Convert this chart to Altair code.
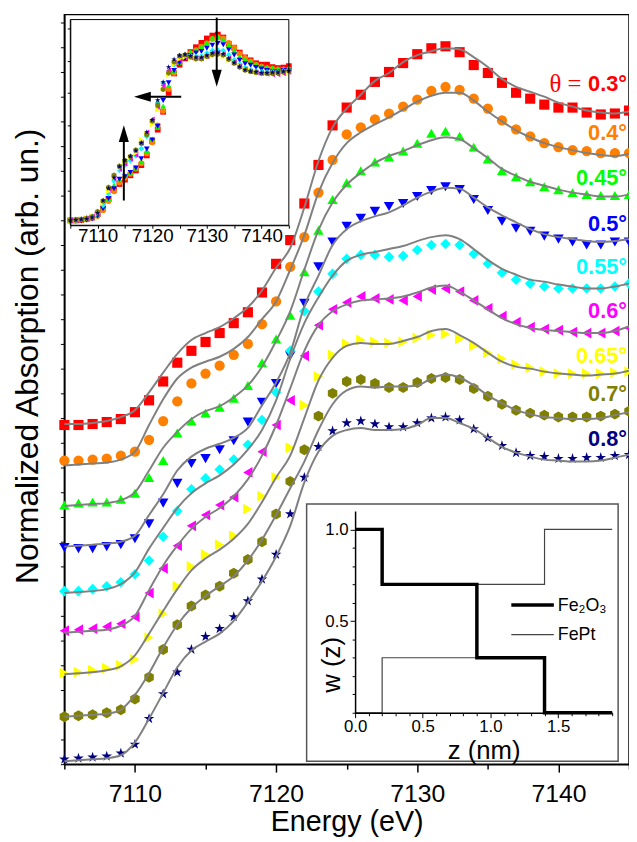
import altair as alt
import pandas as pd

# ---------------- data ----------------
energy = list(range(7105, 7146))  # eV

names = ["0.3°", "0.4°", "0.45°", "0.5°", "0.55°", "0.6°", "0.65°", "0.7°", "0.8°"]
colors = ["#FF0000", "#FF8000", "#00FF00", "#0000FF", "#00FFFF",
          "#FF00FF", "#FFFF00", "#808000", "#000080"]

# measured points (offset spectra, arb. un.)
pts_03 = [3.43,3.43,3.44,3.46,3.49,3.56,3.68,3.87,4.06,4.18,4.27,4.36,4.46,4.57,4.77,5.06,5.30,5.67,6.06,6.46,6.64,6.77,6.90,7.00,7.09,7.18,7.24,7.26,7.20,7.07,6.99,6.89,6.79,6.73,6.67,6.64,6.64,6.59,6.57,6.58,6.61]
pts_04 = [3.07,3.07,3.08,3.09,3.12,3.16,3.28,3.47,3.67,3.85,3.95,4.03,4.14,4.25,4.45,4.68,5.03,5.33,5.78,6.11,6.37,6.44,6.52,6.58,6.65,6.72,6.81,6.85,6.82,6.73,6.63,6.51,6.42,6.35,6.28,6.24,6.21,6.20,6.18,6.18,6.18]
pts_045 = [2.62,2.64,2.65,2.65,2.68,2.74,2.90,3.07,3.35,3.47,3.55,3.61,3.70,3.83,4.06,4.30,4.54,4.98,5.40,5.71,5.88,6.00,6.09,6.14,6.20,6.28,6.38,6.40,6.35,6.24,6.12,6.00,5.94,5.89,5.84,5.81,5.78,5.76,5.75,5.75,5.76]
pts_05 = [2.19,2.18,2.18,2.20,2.22,2.28,2.43,2.64,2.84,3.04,3.09,3.18,3.27,3.46,3.66,3.85,4.13,4.66,5.03,5.28,5.44,5.52,5.59,5.64,5.67,5.74,5.80,5.84,5.81,5.71,5.60,5.49,5.42,5.39,5.34,5.31,5.28,5.25,5.25,5.28,5.28]
pts_055 = [1.75,1.75,1.77,1.80,1.84,1.92,2.06,2.30,2.56,2.78,2.89,2.98,3.08,3.23,3.48,3.76,4.18,4.58,4.78,4.96,5.11,5.15,5.15,5.13,5.14,5.20,5.25,5.26,5.25,5.16,5.06,4.97,4.90,4.86,4.83,4.81,4.81,4.81,4.81,4.83,4.86]
pts_06 = [1.35,1.36,1.37,1.39,1.42,1.49,1.73,1.98,2.21,2.41,2.52,2.62,2.70,2.95,3.16,3.43,3.68,4.13,4.44,4.60,4.67,4.73,4.71,4.70,4.69,4.73,4.80,4.81,4.78,4.69,4.61,4.53,4.47,4.42,4.40,4.39,4.37,4.36,4.36,4.38,4.41]
pts_065 = [0.92,0.93,0.95,0.97,1.00,1.06,1.28,1.52,1.80,2.00,2.12,2.22,2.31,2.58,2.71,2.90,3.20,3.63,3.92,4.14,4.25,4.29,4.27,4.26,4.27,4.31,4.34,4.35,4.30,4.23,4.16,4.10,4.04,4.01,3.97,3.95,3.95,3.95,3.95,3.96,3.97]
pts_07 = [0.48,0.49,0.50,0.52,0.55,0.66,0.88,1.16,1.41,1.60,1.71,1.80,1.93,2.07,2.25,2.53,2.86,3.18,3.52,3.75,3.87,3.89,3.85,3.81,3.81,3.86,3.90,3.91,3.89,3.80,3.72,3.64,3.58,3.55,3.53,3.51,3.51,3.51,3.52,3.54,3.57]
pts_08 = [0.05,0.06,0.07,0.08,0.11,0.20,0.46,0.71,0.93,1.16,1.29,1.37,1.49,1.65,1.87,2.12,2.53,2.90,3.21,3.37,3.45,3.47,3.44,3.41,3.41,3.45,3.50,3.51,3.48,3.39,3.30,3.22,3.15,3.12,3.11,3.09,3.09,3.10,3.10,3.12,3.13]

# fitted curves (gray lines)
fit_03 = [3.44,3.44,3.45,3.47,3.51,3.58,3.76,3.96,4.15,4.29,4.36,4.42,4.51,4.62,4.79,5.02,5.22,5.63,6.10,6.44,6.63,6.77,6.91,6.99,7.10,7.17,7.21,7.24,7.23,7.15,7.05,6.93,6.85,6.80,6.75,6.69,6.65,6.61,6.59,6.58,6.60]
fit_04 = [3.02,3.03,3.04,3.05,3.08,3.16,3.43,3.69,3.90,4.01,4.07,4.12,4.20,4.32,4.50,4.68,5.00,5.35,5.78,6.08,6.28,6.39,6.47,6.54,6.62,6.70,6.76,6.79,6.79,6.71,6.60,6.50,6.41,6.34,6.28,6.24,6.21,6.18,6.16,6.15,6.17]
fit_045 = [2.61,2.62,2.63,2.64,2.67,2.75,2.97,3.20,3.36,3.49,3.57,3.62,3.71,3.83,4.02,4.28,4.58,5.00,5.40,5.68,5.86,5.98,6.08,6.15,6.20,6.26,6.31,6.34,6.32,6.23,6.13,6.02,5.95,5.89,5.85,5.81,5.78,5.76,5.74,5.74,5.76]
fit_05 = [2.20,2.21,2.22,2.23,2.25,2.31,2.52,2.73,2.97,3.11,3.19,3.24,3.30,3.40,3.63,3.86,4.16,4.63,4.94,5.25,5.41,5.49,5.54,5.58,5.65,5.73,5.79,5.83,5.82,5.73,5.63,5.55,5.48,5.41,5.36,5.33,5.31,5.29,5.28,5.29,5.31]
fit_055 = [1.73,1.74,1.75,1.77,1.82,1.94,2.18,2.39,2.59,2.74,2.84,2.92,3.03,3.18,3.38,3.68,4.10,4.46,4.72,4.94,5.09,5.15,5.18,5.21,5.24,5.29,5.33,5.35,5.31,5.21,5.10,5.01,4.95,4.90,4.88,4.85,4.83,4.81,4.81,4.83,4.86]
fit_06 = [1.33,1.34,1.35,1.36,1.40,1.50,1.76,2.01,2.21,2.38,2.50,2.59,2.71,2.88,3.12,3.43,3.80,4.18,4.44,4.58,4.65,4.69,4.70,4.71,4.73,4.77,4.82,4.84,4.78,4.69,4.60,4.51,4.45,4.41,4.39,4.38,4.37,4.36,4.36,4.38,4.43]
fit_065 = [0.91,0.92,0.93,0.95,0.99,1.10,1.32,1.55,1.77,1.96,2.08,2.17,2.28,2.43,2.65,2.90,3.12,3.50,3.88,4.11,4.23,4.26,4.25,4.25,4.28,4.32,4.38,4.40,4.34,4.26,4.16,4.07,4.02,4.00,3.97,3.95,3.94,3.93,3.94,3.95,3.98]
fit_07 = [0.48,0.49,0.50,0.51,0.55,0.70,0.92,1.18,1.41,1.58,1.70,1.80,1.90,2.06,2.27,2.52,2.79,3.06,3.38,3.64,3.78,3.82,3.81,3.82,3.82,3.83,3.90,3.94,3.91,3.83,3.73,3.65,3.58,3.54,3.51,3.50,3.49,3.49,3.50,3.53,3.56]
fit_08 = [0.03,0.04,0.05,0.06,0.09,0.22,0.46,0.72,0.98,1.15,1.24,1.32,1.45,1.64,1.85,2.10,2.41,2.85,3.16,3.32,3.38,3.40,3.38,3.38,3.39,3.43,3.50,3.50,3.45,3.39,3.30,3.21,3.15,3.11,3.08,3.07,3.06,3.06,3.07,3.10,3.13]

points = [pts_03, pts_04, pts_045, pts_05, pts_055, pts_06, pts_065, pts_07, pts_08]
fits = [fit_03, fit_04, fit_045, fit_05, fit_055, fit_06, fit_065, fit_07, fit_08]
baseline = [3.43, 3.07, 2.62, 2.19, 1.75, 1.35, 0.92, 0.48, 0.05]   # vertical offsets removed in the inset
label_y = [6.88, 6.38, 5.93, 5.46, 5.03, 4.58, 4.13, 3.74, 3.29]

# inset arrows (inset units)
arrow_x = [7131.8, 7125.3, 7114.8]
arrow_y = [4.18, 2.55, 0.41]
arrow_x2 = [7131.8, 7119.0, 7114.8]
arrow_y2 = [3.05, 2.55, 1.70]
head_x = [7131.8, 7118.2, 7114.8]
head_y = [2.93, 2.55, 1.79]

# depth profile inset
z_nm = [0.0, 0.2, 0.9, 1.4, 1.9]
w_fe2o3 = [1.0, 0.7, 0.3, 0.0, 0.0]
w_fept = [0.0, 0.3, 0.7, 1.0, 1.0]

# ---------------- tables ----------------
rows_p, rows_f = [], []
for nm, p, f, b in zip(names, points, fits, baseline):
    for e, pv, fv in zip(energy, p, f):
        rows_p.append({"E": e, "A": pv, "rel": round(pv - b, 3), "series": nm})
        rows_f.append({"E": e, "A": fv, "series": nm})
dfp = pd.DataFrame(rows_p)
dff = pd.DataFrame(rows_f)
dflab = pd.DataFrame({"E": [7145] * 9, "A": label_y, "series": names})
dfshaft = pd.DataFrame({"x": arrow_x, "y": arrow_y, "x2": arrow_x2, "y2": arrow_y2})
dfw = pd.DataFrame({"z": z_nm, "fe2o3": w_fe2o3, "fept": w_fept})
one = pd.DataFrame({"a": [0]})

HEX = "M0,-1L0.866,-0.5L0.866,0.5L0,1L-0.866,0.5L-0.866,-0.5Z"
STAR = ("M0,-1L0.223,-0.307L0.951,-0.309L0.361,0.117L0.588,0.809L0,0.38"
        "L-0.588,0.809L-0.361,0.117L-0.951,-0.309L-0.223,-0.307Z")
shapes = ["square", "circle", "triangle-up", "triangle-down", "diamond",
          "triangle-left", "triangle-right", HEX, STAR]
sizes = [105, 125, 150, 150, 120, 150, 150, 130, 175]
DOWN = "M-0.6,-1L0.6,-1L0,1Z"
LEFT = "M1,-0.6L1,0.6L-1,0Z"
UP = "M-0.6,1L0.6,1L0,-1Z"

FONT = "Liberation Sans"
color_s = alt.Scale(domain=names, range=colors)
shape_s = alt.Scale(domain=names, range=shapes)
size_s = alt.Scale(domain=names, range=sizes)

# ---------------- main panel ----------------
xs = alt.Scale(domain=[7105, 7145], nice=False, zero=False)
ys = alt.Scale(domain=[0, 7.58], nice=False, zero=False)
x_axis = alt.Axis(title="Energy (eV)", values=list(range(7105, 7146, 5)), format="d",
                  labelExpr="datum.value % 10 === 0 ? datum.label : ''",
                  tickSize={"condition": {"test": "datum.value % 10 === 0", "value": 8}, "value": 5},
                  labelFontSize=25, titleFontSize=29, labelPadding=10, titlePadding=1,
                  tickWidth=1.5, domainWidth=1.5, labelOverlap=False, labelFlush=False)
y_axis = alt.Axis(title="Normalized Absorption (arb. un.)", labels=False,
                  values=[i * 0.25 for i in range(31)], tickSize=4, tickWidth=1,
                  domainWidth=1.5, titleFontSize=32, titleAngle=270, titleX=-37, titleY=345,
                  titleBaseline="middle", titleAlign="center")

X = alt.X("E:Q", scale=xs, axis=x_axis)
Y = alt.Y("A:Q", scale=ys, axis=y_axis)

main_pts = alt.Chart(dfp).mark_point(filled=True, opacity=1, strokeWidth=0).encode(
    x=X, y=Y,
    color=alt.Color("series:N", scale=color_s, legend=None),
    shape=alt.Shape("series:N", scale=shape_s, legend=None),
    size=alt.Size("series:O", scale=size_s, legend=None),
)
main_fit = alt.Chart(dff).mark_line(color="#808080", strokeWidth=2, interpolate="monotone").encode(
    x=X, y=Y, detail="series:N")
labels = alt.Chart(dflab).mark_text(align="right", baseline="middle", dx=-2, fontSize=22,
                                    fontWeight="bold", font=FONT).encode(
    x=X, y=Y, text="series:N", color=alt.Color("series:N", scale=color_s, legend=None))
theta = alt.Chart(pd.DataFrame({"E": [7145], "A": [label_y[0]], "t": ["θ ="]})).mark_text(
    align="right", baseline="middle", dx=-48, fontSize=25, font="Liberation Serif",
    color="#FF0000").encode(x=X, y=Y, text="t:N")
main = alt.layer(main_pts, main_fit, labels, theta)

# ---------------- inset 1 (unshifted spectra) ----------------
xs1 = alt.Scale(domain=[7105, 7145], range=[6, 227], nice=False, zero=False)
ys1 = alt.Scale(domain=[-0.1, 4.14], range=[213, 5], nice=False, zero=False)
ax1x = alt.Axis(orient="bottom", offset=-545, title=None, values=list(range(7105, 7146, 5)),
                format="d", labelExpr="datum.value % 10 === 0 ? datum.label : ''",
                tickSize=3, labelFontSize=19, labelPadding=-2, labelOverlap=False,
                labelFlush=False, zindex=1)
ax1y = alt.Axis(orient="left", offset=-6, title=None, labels=False,
                values=[0.61, 1.29, 1.96, 2.63, 3.29, 3.96], tickSize=3, zindex=1)
X1 = alt.X("E:Q", scale=xs1, axis=ax1x)
Y1 = alt.Y("rel:Q", scale=ys1, axis=ax1y)
ins1_pts = alt.Chart(dfp).mark_point(filled=True, opacity=1, strokeWidth=0, size=34).encode(
    x=X1, y=Y1,
    color=alt.Color("series:N", scale=color_s, legend=None),
    shape=alt.Shape("series:N", scale=shape_s, legend=None))
ins1_frame = alt.Chart(one).mark_rect(filled=False, color="black", strokeWidth=1).encode(
    x=alt.value(6), x2=alt.value(227), y=alt.value(5), y2=alt.value(213))
shafts = alt.Chart(dfshaft).mark_rule(color="black", strokeWidth=2).encode(
    x=alt.X("x:Q", scale=xs1, axis=ax1x), x2="x2:Q",
    y=alt.Y("y:Q", scale=ys1, axis=ax1y), y2="y2:Q")
heads = []
for hx, hy, path in zip(head_x, head_y, [DOWN, LEFT, UP]):
    heads.append(alt.Chart(pd.DataFrame({"x": [hx], "y": [hy]})).mark_point(
        shape=path, size=289, filled=True, opacity=1, color="black", strokeWidth=0).encode(
        x=alt.X("x:Q", scale=xs1, axis=ax1x), y=alt.Y("y:Q", scale=ys1, axis=ax1y)))
inset1 = alt.layer(ins1_pts, ins1_frame, shafts, *heads)

# ---------------- inset 2 (depth profile) ----------------
xs2 = alt.Scale(domain=[0, 1.9], range=[294, 554], nice=False, zero=False)
ys2 = alt.Scale(domain=[0, 1.1], range=[706, 502], nice=False, zero=False)
ax2x = alt.Axis(orient="bottom", offset=-52, title="z (nm)",
                values=[round(i * 0.1, 1) for i in range(20)], format=".1f",
                labelExpr="(datum.value * 2) % 1 === 0 ? datum.label : ''",
                tickSize={"condition": {"test": "(datum.value * 2) % 1 === 0", "value": 5}, "value": 3},
                labelFontSize=17, titleFontSize=26, labelPadding=1, titlePadding=3,
                labelOverlap=False, labelFlush=False, zindex=1, domainWidth=1.5)
ax2y = alt.Axis(orient="left", offset=-294, title="w (z)",
                values=[round(i * 0.1, 1) for i in range(11)], format=".1f",
                labelExpr="datum.value === 0.5 || datum.value === 1 ? datum.label : ''",
                tickSize={"condition": {"test": "datum.value === 0.5 || datum.value === 1", "value": 5}, "value": 3},
                labelFontSize=17, titleFontSize=26, titleAngle=270, titleX=-24, titleY=657,
                titleBaseline="middle", titleAlign="center", labelOverlap=False,
                labelFlush=False, zindex=1, domainWidth=1.5)
X2 = alt.X("z:Q", scale=xs2, axis=ax2x)
box = alt.Chart(one).mark_rect(fill="white", stroke="#555555", strokeWidth=1.5).encode(
    x=alt.value(245), x2=alt.value(560), y=alt.value(495), y2=alt.value(755))
fept = alt.Chart(dfw).mark_line(interpolate="step-after", color="#444444", strokeWidth=1.2).encode(
    x=X2, y=alt.Y("fept:Q", scale=ys2, axis=ax2y))
fe2o3 = alt.Chart(dfw).mark_line(interpolate="step-after", color="black", strokeWidth=3.5).encode(
    x=X2, y=alt.Y("fe2o3:Q", scale=ys2, axis=ax2y))
leg1 = alt.Chart(one).mark_rule(color="black", strokeWidth=3.5).encode(
    x=alt.value(452), x2=alt.value(495), y=alt.value(597))
leg2 = alt.Chart(one).mark_rule(color="#444444", strokeWidth=1.2).encode(
    x=alt.value(452), x2=alt.value(495), y=alt.value(627))
legt1 = alt.Chart(one).mark_text(align="left", baseline="middle", fontSize=18, font=FONT,
                                 text="Fe₂O₃").encode(x=alt.value(499), y=alt.value(598))
legt2 = alt.Chart(one).mark_text(align="left", baseline="middle", fontSize=18, font=FONT,
                                 text="FePt").encode(x=alt.value(499), y=alt.value(627))
inset2 = alt.layer(box, fept, fe2o3, leg1, leg2, legt1, legt2)

chart = alt.layer(main, inset1, inset2).resolve_scale(
    x="independent", y="independent", color="independent", shape="independent", size="independent"
).properties(
    width=571, height=758,
    autosize=alt.AutoSizeParams(type="none"),
    padding={"left": 57, "top": 2, "right": 0, "bottom": 74},
).configure_view(stroke="black", strokeWidth=1.5).configure_axis(
    grid=False, labelFont=FONT, titleFont=FONT, domainColor="black", tickColor="black",
    labelColor="black", titleColor="black", titleFontWeight="normal"
).configure_text(font=FONT)

chart.save("out.html", embed_options={"renderer": "svg", "actions": False})
